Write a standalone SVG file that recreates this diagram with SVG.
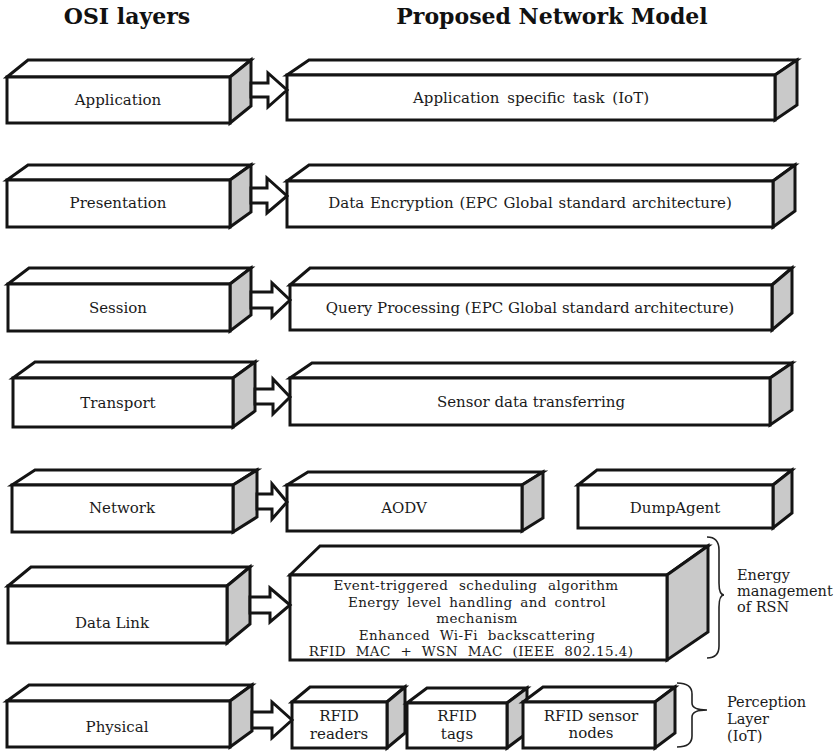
<svg xmlns="http://www.w3.org/2000/svg" width="835" height="752" viewBox="0 0 835 752">
  <style>
    .face { fill: #ffffff; stroke: #141414; stroke-width: 3; stroke-linejoin: miter; }
    .side { fill: #c9c9c9; stroke: #141414; stroke-width: 3; stroke-linejoin: miter; }
    .arrow { fill: #ffffff; stroke: #141414; stroke-width: 3; stroke-linejoin: miter; }
    .brace { fill: none; stroke: #222222; stroke-width: 1.6; }
    .title { font-family: "DejaVu Serif", "Liberation Serif", serif; font-weight: bold; font-size: 22px; fill: #111111; text-anchor: middle; }
    .lbl { font-family: "DejaVu Serif", "Liberation Serif", serif; font-size: 15px; fill: #1a1a1a; text-anchor: middle; }
    .dense { font-family: "DejaVu Serif", "Liberation Serif", serif; font-size: 13.5px; letter-spacing: 0.4px; fill: #1a1a1a; text-anchor: middle; }
    .note { font-family: "DejaVu Serif", "Liberation Serif", serif; font-size: 14.5px; fill: #1a1a1a; }
  </style>

  <rect width="835" height="752" fill="#ffffff"/>

  <!-- column headings -->
  <text class="title" x="127" y="24">OSI layers</text>
  <text class="title" x="552" y="24">Proposed Network Model</text>

  <!-- OSI layer blocks (left column) -->
  <g id="osi-application">
    <polygon class="face" points="7,77 28,60 251,60 230,77"/>
    <polygon class="side" points="230,77 251,60 251,106 230,123"/>
    <rect class="face" x="7" y="77" width="223" height="46"/>
    <text class="lbl" x="118" y="105">Application</text>
  </g>
  <g id="osi-presentation">
    <polygon class="face" points="7,180 28,165 251,165 230,180"/>
    <polygon class="side" points="230,180 251,165 251,212 230,227"/>
    <rect class="face" x="7" y="180" width="223" height="47"/>
    <text class="lbl" x="118" y="208">Presentation</text>
  </g>
  <g id="osi-session">
    <polygon class="face" points="8,284 29,268 251,268 230,284"/>
    <polygon class="side" points="230,284 251,268 251,315 230,331"/>
    <rect class="face" x="8" y="284" width="222" height="47"/>
    <text class="lbl" x="118" y="313">Session</text>
  </g>
  <g id="osi-transport">
    <polygon class="face" points="13,378 35,362 255,362 233,378"/>
    <polygon class="side" points="233,378 255,362 255,411 233,427"/>
    <rect class="face" x="13" y="378" width="220" height="49"/>
    <text class="lbl" x="118" y="408">Transport</text>
  </g>
  <g id="osi-network">
    <polygon class="face" points="12,485 35,470 257,470 233,485"/>
    <polygon class="side" points="233,485 257,470 257,517 233,532"/>
    <rect class="face" x="12" y="485" width="221" height="47"/>
    <text class="lbl" x="122" y="513">Network</text>
  </g>
  <g id="osi-datalink">
    <polygon class="face" points="8,586 31,567 250,567 227,586"/>
    <polygon class="side" points="227,586 250,567 250,624 227,643"/>
    <rect class="face" x="8" y="586" width="219" height="57"/>
    <text class="lbl" x="112" y="628">Data Link</text>
  </g>
  <g id="osi-physical">
    <polygon class="face" points="7,701 29,685 252,685 230,701"/>
    <polygon class="side" points="230,701 252,685 252,731 230,747"/>
    <rect class="face" x="7" y="701" width="223" height="46"/>
    <text class="lbl" x="117" y="732">Physical</text>
  </g>

  <!-- proposed model blocks (right column) -->
  <g id="model-application">
    <polygon class="face" points="287,75 309,60 797,60 775,75"/>
    <polygon class="side" points="775,75 797,60 797,105 775,120"/>
    <rect class="face" x="287" y="75" width="488" height="45"/>
    <text class="lbl" x="531" y="103" word-spacing="3">Application specific task (IoT)</text>
  </g>
  <g id="model-presentation">
    <polygon class="face" points="287,181 309,165 795,165 773,181"/>
    <polygon class="side" points="773,181 795,165 795,211 773,227"/>
    <rect class="face" x="287" y="181" width="486" height="46"/>
    <text class="lbl" x="530" y="208" word-spacing="1">Data Encryption (EPC Global standard architecture)</text>
  </g>
  <g id="model-session">
    <polygon class="face" points="290,285 310,268 792,268 772,285"/>
    <polygon class="side" points="772,285 792,268 792,313 772,330"/>
    <rect class="face" x="290" y="285" width="482" height="45"/>
    <text class="lbl" x="530" y="313">Query Processing (EPC Global standard architecture)</text>
  </g>
  <g id="model-transport">
    <polygon class="face" points="290,378 312,363 792,363 770,378"/>
    <polygon class="side" points="770,378 792,363 792,410 770,425"/>
    <rect class="face" x="290" y="378" width="480" height="47"/>
    <text class="lbl" x="531" y="407" font-size="14.3">Sensor data transferring</text>
  </g>
  <g id="model-aodv">
    <polygon class="face" points="287,485 308,472 543,472 522,485"/>
    <polygon class="side" points="522,485 543,472 543,518 522,531"/>
    <rect class="face" x="287" y="485" width="235" height="46"/>
    <text class="lbl" x="404" y="513">AODV</text>
  </g>
  <g id="model-dumpagent">
    <polygon class="face" points="578,485 597,470 792,470 773,485"/>
    <polygon class="side" points="773,485 792,470 792,513 773,528"/>
    <rect class="face" x="578" y="485" width="195" height="43"/>
    <text class="lbl" x="675" y="513">DumpAgent</text>
  </g>
  <g id="model-datalink">
    <polygon class="face" points="290,575 320,546 708,546 667,575"/>
    <polygon class="side" points="667,575 708,546 708,632 667,660"/>
    <rect class="face" x="290" y="575" width="377" height="85"/>
    <text class="dense" x="476" y="590" word-spacing="6">Event-triggered scheduling algorithm</text>
    <text class="dense" x="477" y="606.5" word-spacing="3">Energy level handling and control</text>
    <text class="dense" x="477" y="623">mechanism</text>
    <text class="dense" x="477" y="639.5" word-spacing="5">Enhanced Wi-Fi backscattering</text>
    <text class="dense" x="471" y="656" word-spacing="5">RFID MAC + WSN MAC (IEEE 802.15.4)</text>
  </g>
  <g id="model-rfid-readers">
    <polygon class="face" points="292,702 310,687 405,687 387,702"/>
    <polygon class="side" points="387,702 405,687 405,733 387,748"/>
    <rect class="face" x="292" y="702" width="95" height="46"/>
    <text class="lbl" x="339" y="721">RFID</text>
    <text class="lbl" x="339" y="739">readers</text>
  </g>
  <g id="model-rfid-tags">
    <polygon class="face" points="407,703 427,688 527,688 507,703"/>
    <polygon class="side" points="507,703 527,688 527,733 507,748"/>
    <rect class="face" x="407" y="703" width="100" height="45"/>
    <text class="lbl" x="457" y="721">RFID</text>
    <text class="lbl" x="457" y="739">tags</text>
  </g>
  <g id="model-rfid-sensor-nodes">
    <polygon class="face" points="523,702 543,687 675,687 655,702"/>
    <polygon class="side" points="655,702 675,687 675,733 655,748"/>
    <rect class="face" x="523" y="702" width="132" height="46"/>
    <text class="lbl" x="591" y="721">RFID sensor</text>
    <text class="lbl" x="591" y="738">nodes</text>
  </g>

  <!-- group labels with braces -->
  <g id="energy-management">
    <path class="brace" d="M707,537 Q719,537 719,550 L719,583 Q719,595 724,595 Q719,595 719,607 L719,646 Q719,658 707,658"/>
    <text class="note" x="737" y="580">Energy</text>
    <text class="note" x="737" y="596">management</text>
    <text class="note" x="737" y="612">of RSN</text>
  </g>
  <g id="perception-layer">
    <path class="brace" d="M677,683 Q692,683 692,694 L692,703 Q692,710 707,710 Q692,710 692,717 L692,736 Q692,747 677,747"/>
    <text class="note" x="727" y="707">Perception</text>
    <text class="note" x="727" y="724">Layer</text>
    <text class="note" x="727" y="741">(IoT)</text>
  </g>

  <!-- block arrows from each OSI layer to its model counterpart -->
  <g id="connectors">
    <polygon class="arrow" points="251,83 268,83 268,73 287,90 268,107 268,97 251,97"/>
    <polygon class="arrow" points="251,188 267,188 267,178 287,196 267,213 267,203 251,203"/>
    <polygon class="arrow" points="251,292 272,292 272,283 290,300 272,317 272,308 251,308"/>
    <polygon class="arrow" points="255,389 273,389 273,379 290,397 273,414 273,404 255,404"/>
    <polygon class="arrow" points="257,494 272,494 272,484 287,502 272,519 272,509 257,509"/>
    <polygon class="arrow" points="250,597 270,597 270,588 290,605 270,622 270,613 250,613"/>
    <polygon class="arrow" points="252,712 272,712 272,702 292,720 272,738 272,728 252,728"/>
  </g>
</svg>
